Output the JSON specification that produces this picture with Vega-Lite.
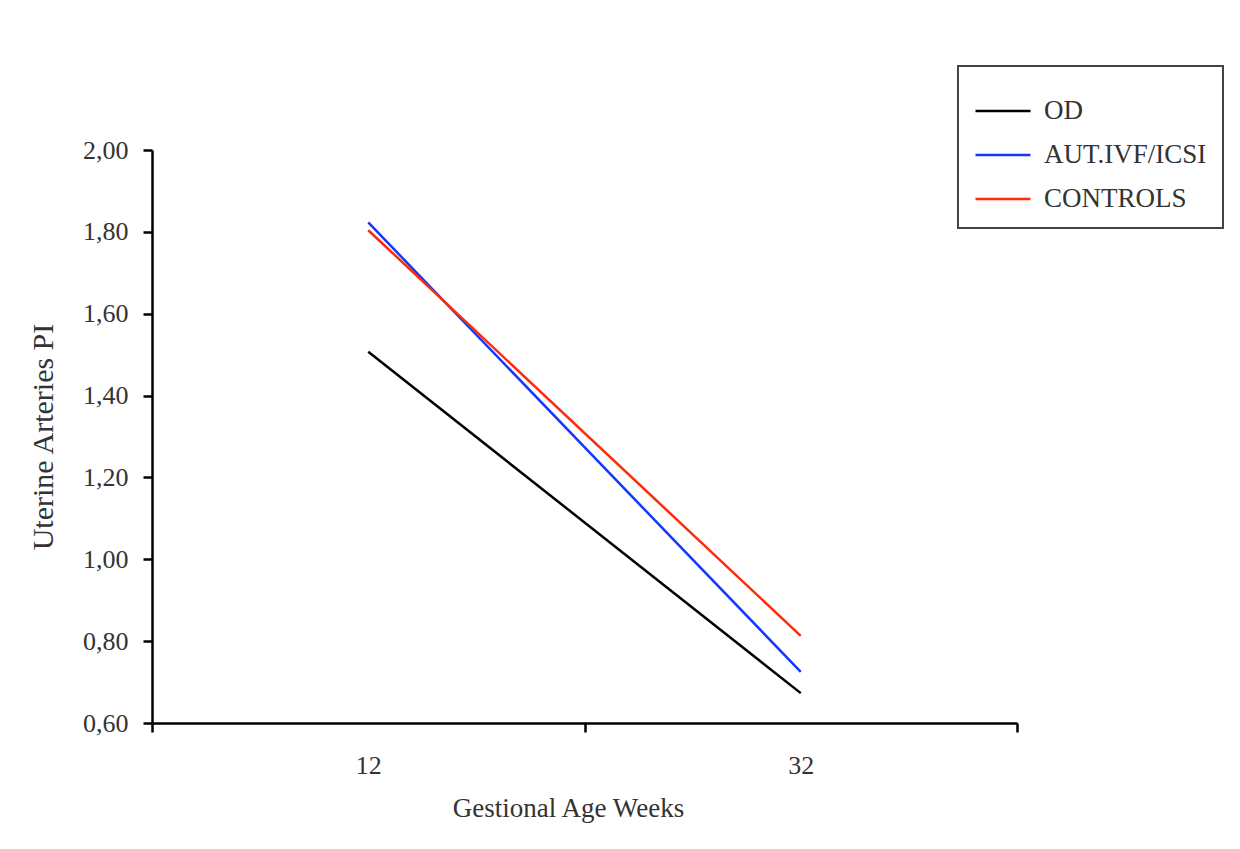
{
  "$schema": "https://vega.github.io/schema/vega-lite/v6.json",
  "width": 865,
  "height": 573,
  "autosize": {"type": "none"},
  "padding": {"left": 152, "top": 150, "right": 223, "bottom": 126},
  "background": "white",
  "config": {
    "locale": {"number": {"decimal": ",", "thousands": ".", "grouping": [3], "currency": ["", " €"]}},
    "view": {"stroke": null},
    "font": "Liberation Serif",
    "axis": {
      "domainColor": "#000000",
      "domainWidth": 2.5,
      "tickColor": "#000000",
      "tickWidth": 2.5,
      "tickSize": 9,
      "labelFont": "Liberation Serif",
      "labelFontSize": 26,
      "labelColor": "#333333",
      "titleFont": "Liberation Serif",
      "titleFontWeight": "normal",
      "titleColor": "#333333",
      "grid": false
    },
    "legend": {"strokeWidth": 2}
  },
  "data": {
    "values": [
      {"week": "12", "group": "OD", "pi": 1.507},
      {"week": "32", "group": "OD", "pi": 0.673},
      {"week": "12", "group": "AUT.IVF/ICSI", "pi": 1.823},
      {"week": "32", "group": "AUT.IVF/ICSI", "pi": 0.725},
      {"week": "12", "group": "CONTROLS", "pi": 1.804},
      {"week": "32", "group": "CONTROLS", "pi": 0.813}
    ]
  },
  "mark": {"type": "line", "strokeWidth": 2.5},
  "encoding": {
    "x": {
      "field": "week",
      "type": "ordinal",
      "sort": ["12", "32"],
      "scale": {"paddingInner": 0, "paddingOuter": 0},
      "axis": {
        "title": "Gestional Age Weeks",
        "titleFontSize": 27,
        "titleX": 416,
        "labelAngle": 0,
        "tickBand": "extent",
        "labelPadding": 20,
        "titlePadding": 17
      }
    },
    "y": {
      "field": "pi",
      "type": "quantitative",
      "scale": {"domain": [0.6, 2.0], "nice": false, "zero": false},
      "axis": {
        "title": "Uterine Arteries PI",
        "titleFontSize": 30,
        "values": [0.6, 0.8, 1.0, 1.2, 1.4, 1.6, 1.8, 2.0],
        "format": ".2f",
        "labelPadding": 15,
        "titlePadding": 24
      }
    },
    "color": {
      "field": "group",
      "type": "nominal",
      "sort": ["OD", "AUT.IVF/ICSI", "CONTROLS"],
      "scale": {"domain": ["OD", "AUT.IVF/ICSI", "CONTROLS"], "range": ["#000000", "#1238ff", "#ff2a0a"]},
      "legend": {
        "title": null,
        "orient": "none",
        "legendX": 806,
        "legendY": -84,
        "strokeColor": "#444444",
        "fillColor": "white",
        "padding": 16,
        "symbolType": "stroke",
        "symbolSize": 3025,
        "symbolStrokeWidth": 2.5,
        "labelFont": "Liberation Serif",
        "labelFontSize": 27,
        "labelColor": "#333333",
        "labelLimit": 500,
        "labelOffset": 12,
        "labelExpr": "datum.label + '\u00a0\u00a0\u00a0\u00a0\u00a0\u00a0\u00a0\u00a0\u00a0\u00a0'",
        "rowPadding": 2
      }
    }
  }
}
